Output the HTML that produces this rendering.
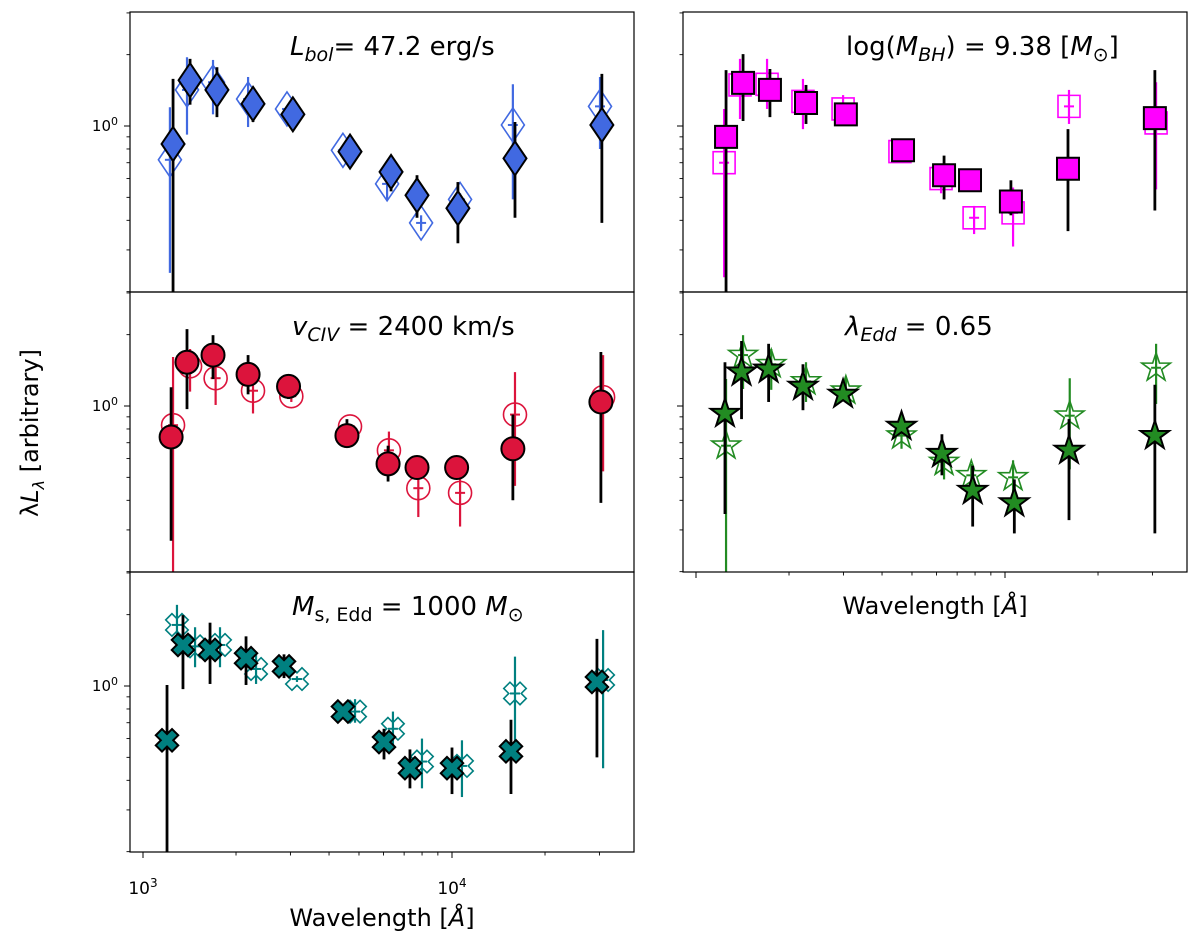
<!DOCTYPE html>
<html><head><meta charset="utf-8">
<style>
html,body{margin:0;padding:0;background:#fff;}
svg{display:block;font-family:"DejaVu Sans","Liberation Sans",sans-serif;}
</style></head>
<body>
<svg id="fig" width="1200" height="951" viewBox="0 0 1200 951" xmlns="http://www.w3.org/2000/svg">
<rect x="0" y="0" width="1200" height="951" fill="#fff"/>
<text transform="translate(38,433) rotate(-90)" text-anchor="middle" font-size="24">λ<tspan font-style="italic">L</tspan><tspan font-size="16" dy="6" font-style="italic">λ</tspan><tspan dy="-6"> [arbitrary]</tspan></text>
<text x="382" y="926" text-anchor="middle" font-size="24">Wavelength [<tspan font-style="italic">Å</tspan>]</text>
<text x="935" y="614" text-anchor="middle" font-size="24">Wavelength [<tspan font-style="italic">Å</tspan>]</text>
<g id="panels"></g>
</svg>
<script>
// ---- Panel 1: L_bol (diamonds) ----
const lbolFilledWave=[1251,1420,1735,2270,3055,4677,6350,7705,10450,15990,30550];
const lbolFilledVal=[0.84,1.56,1.42,1.24,1.12,0.78,0.64,0.51,0.45,0.73,1.01];
const lbolFilledLo=[0.15,1.23,1.09,1.04,0.99,0.74,0.53,0.41,0.32,0.41,0.39];
const lbolFilledHi=[1.58,1.92,1.77,1.39,1.20,0.81,0.75,0.62,0.58,1.04,1.66];
const lbolOpenWave=[1222,1388,1685,2188,2924,4436,6165,7943,10620,15740,30130];
const lbolOpenVal=[0.72,1.42,1.53,1.30,1.18,0.79,0.57,0.39,0.49,1.01,1.21];
const lbolOpenLo=[0.24,0.92,1.12,0.99,1.15,0.76,0.49,0.36,0.45,0.49,0.80];
const lbolOpenHi=[1.20,1.95,1.90,1.61,1.21,0.82,0.67,0.42,0.52,1.50,1.61];
// ---- Panel 2: M_BH (squares) ----
const mbhFilledWave=[1251,1420,1735,2270,3055,4677,6350,7705,10450,15990,30550];
const mbhFilledVal=[0.90,1.52,1.42,1.25,1.12,0.79,0.62,0.59,0.48,0.66,1.08];
const mbhFilledLo=[0.15,1.05,1.09,1.02,1.12,0.79,0.49,0.59,0.42,0.36,0.44];
const mbhFilledHi=[1.72,2.01,1.74,1.49,1.12,0.79,0.75,0.59,0.59,0.97,1.72];
const mbhOpenWave=[1233,1388,1698,2219,2992,4571,6210,7943,10620,16110,30830];
const mbhOpenVal=[0.70,1.49,1.50,1.27,1.18,0.78,0.60,0.41,0.43,1.21,1.03];
const mbhOpenLo=[0.23,1.07,1.18,0.97,1.15,0.76,0.52,0.35,0.31,1.02,0.54];
const mbhOpenHi=[1.18,1.92,1.92,1.58,1.35,0.80,0.69,0.46,0.55,1.42,1.53];
// ---- Panel 3: v_CIV (circles) ----
const civFilledWave=[1233,1388,1685,2188,2958,4571,6210,7705,10350,15740,30330];
const civFilledVal=[0.74,1.53,1.64,1.36,1.21,0.75,0.57,0.55,0.55,0.66,1.04];
const civFilledLo=[0.27,0.97,1.30,1.12,1.07,0.67,0.48,0.55,0.55,0.40,0.39];
const civFilledHi=[1.20,2.11,1.99,1.64,1.35,0.88,0.68,0.55,0.55,0.92,1.69];
const civOpenWave=[1251,1420,1718,2270,3020,4677,6250,7780,10620,15990,30830];
const civOpenVal=[0.83,1.47,1.31,1.16,1.10,0.82,0.65,0.45,0.43,0.92,1.09];
const civOpenLo=[0.15,1.15,1.01,0.93,1.04,0.80,0.60,0.34,0.31,0.46,0.53];
const civOpenHi=[1.61,1.74,1.50,1.30,1.15,0.84,0.78,0.53,0.50,1.39,1.64];
// ---- Panel 4: lambda_Edd (stars) ----
const eddFilledWave=[1241,1404,1718,2219,2992,4625,6250,7860,10720,16110,30550];
const eddFilledVal=[0.93,1.39,1.43,1.21,1.12,0.82,0.63,0.44,0.39,0.65,0.75];
const eddFilledLo=[0.35,0.88,1.04,0.96,1.08,0.79,0.51,0.31,0.29,0.33,0.29];
const eddFilledHi=[1.53,1.88,1.83,1.50,1.17,0.85,0.76,0.56,0.49,0.88,1.23];
const eddOpenWave=[1251,1420,1752,2270,3055,4625,6350,7780,10620,16200,30830];
const eddOpenVal=[0.68,1.64,1.50,1.27,1.16,0.75,0.58,0.51,0.50,0.91,1.45];
const eddOpenLo=[0.15,1.18,1.17,1.04,1.04,0.66,0.49,0.45,0.43,0.54,1.02];
const eddOpenHi=[1.30,1.99,1.74,1.53,1.33,0.83,0.66,0.57,0.59,1.31,1.83];
// ---- Panel 5: M_s,Edd (crosses) ----
const msFilledWave=[1196,1347,1648,2155,2860,4436,6025,7310,10000,15520,29450];
const msFilledVal=[0.59,1.49,1.42,1.31,1.21,0.78,0.58,0.45,0.45,0.53,1.04];
const msFilledLo=[0.15,0.97,1.02,1.01,1.08,0.76,0.49,0.37,0.35,0.35,0.50];
const msFilledHi=[1.01,1.99,1.85,1.62,1.36,0.80,0.66,0.54,0.55,0.72,1.58];
const msOpenWave=[1288,1474,1775,2322,3150,4855,6440,7995,10770,15990,30830];
const msOpenVal=[1.81,1.47,1.49,1.18,1.07,0.78,0.66,0.48,0.46,0.93,1.06];
const msOpenLo=[1.58,1.20,1.20,1.02,1.04,0.70,0.56,0.37,0.34,0.55,0.45];
const msOpenHi=[2.20,1.77,1.77,1.35,1.10,0.88,0.78,0.60,0.59,1.33,1.72];

const xMajor=[1000,10000];
const xMinor=[900,2000,3000,4000,5000,6000,7000,8000,9000,20000,30000];
const yMajor=[1];
const yMinor=[0.2,0.3,0.4,0.5,0.6,0.7,0.8,0.9,2,3];

const NS="http://www.w3.org/2000/svg";
const root=document.getElementById('panels');
const PW=504,PH=280;
function mk(tag,attrs,parent){const e=document.createElementNS(NS,tag);for(const k in attrs)e.setAttribute(k,attrs[k]);(parent||root).appendChild(e);return e;}

function makeAxes(left,top){
  return {
    x:v=>left+13+309*(Math.log10(v)-3),
    y:v=>top+114-237*Math.log10(v),
    left,top
  };
}
function markerPath(shape,cx,cy){
  if(shape==='diamond'){return `M${cx},${cy-17}L${cx+11.5},${cy}L${cx},${cy+17}L${cx-11.5},${cy}Z`;}
  if(shape==='square'){const h=11;return `M${cx-h},${cy-h}H${cx+h}V${cy+h}H${cx-h}Z`;}
  if(shape==='star'){let d='';for(let i=0;i<10;i++){const r=i%2?5.8:15;const a=-Math.PI/2+i*Math.PI/5;d+=(i?'L':'M')+(cx+r*Math.cos(a)).toFixed(2)+','+(cy+r*Math.sin(a)).toFixed(2);}return d+'Z';}
  if(shape==='cross'){const L=11.5,T=4.4;const pts=[[-T,-L],[T,-L],[T,-T],[L,-T],[L,T],[T,T],[T,L],[-T,L],[-T,T],[-L,T],[-L,-T],[-T,-T]];const c=Math.SQRT1_2;let d='';pts.forEach((p,i)=>{const x=(p[0]-p[1])*c,y=(p[0]+p[1])*c;d+=(i?'L':'M')+(cx+x).toFixed(2)+','+(cy+y).toFixed(2);});return d+'Z';}
  return '';
}
let clipId=0;
function panel(cfg){
  const ax=makeAxes(cfg.left,cfg.top);
  const g=mk('g',{});
  
  
  const cid='clip'+(clipId++);
  const cp=mk('clipPath',{id:cid},g);
  mk('rect',{x:cfg.left,y:cfg.top,width:PW,height:PH},cp);
  const plot=mk('g',{'clip-path':`url(#${cid})`},g);
  cfg.ow.forEach((w,i)=>{
    const x=ax.x(w);
    const eb=mk('line',{x1:x,x2:x,y1:ax.y(cfg.ohi[i]),y2:ax.y(cfg.olo[i]),stroke:cfg.color,'stroke-width':2.2},plot);
    
    
    mk('line',{x1:x-5,x2:x+5,y1:ax.y(cfg.ov[i]),y2:ax.y(cfg.ov[i]),stroke:cfg.color,'stroke-width':2},plot);
    const m=mk(cfg.shape==='circle'?'circle':'path',{},plot);
    if(cfg.shape==='circle'){m.setAttribute('cx',x);m.setAttribute('cy',ax.y(cfg.ov[i]));m.setAttribute('r',11.5);}
    else m.setAttribute('d',markerPath(cfg.shape,x,ax.y(cfg.ov[i])));
    m.setAttribute('fill','none');m.setAttribute('stroke',cfg.color);m.setAttribute('stroke-width',1.6);
    
    
  });
  cfg.fw.forEach((w,i)=>{
    const x=ax.x(w);
    const eb=mk('line',{x1:x,x2:x,y1:ax.y(cfg.fhi[i]),y2:ax.y(cfg.flo[i]),stroke:'#000','stroke-width':2.8},plot);
    
    
    const m=mk(cfg.shape==='circle'?'circle':'path',{},plot);
    if(cfg.shape==='circle'){m.setAttribute('cx',x);m.setAttribute('cy',ax.y(cfg.fv[i]));m.setAttribute('r',11.5);}
    else m.setAttribute('d',markerPath(cfg.shape,x,ax.y(cfg.fv[i])));
    m.setAttribute('fill',cfg.color);m.setAttribute('stroke','#000');m.setAttribute('stroke-width',2);m.setAttribute('stroke-linejoin','miter');
    
    
  });
  const fr=mk('rect',{x:cfg.left,y:cfg.top,width:PW,height:PH,fill:'none',stroke:'#000','stroke-width':1.2},g);
  
  
  yMajor.forEach(v=>{const y=ax.y(v);mk('line',{x1:cfg.left-6,x2:cfg.left,y1:y,y2:y,stroke:'#000','stroke-width':1},g);
    if(cfg.ylabels){const t=mk('text',{x:cfg.left-12,y:y+5,'text-anchor':'end','font-size':15},g);t.innerHTML='10<tspan dy="-6" font-size="11">0</tspan>';
      
      }});
  yMinor.forEach(v=>{const y=ax.y(v);if(y>cfg.top&&y<cfg.top+PH)mk('line',{x1:cfg.left-3.5,x2:cfg.left,y1:y,y2:y,stroke:'#000','stroke-width':0.9},g);});
  if(cfg.xticks){
    const yb=cfg.top+PH;
    xMajor.forEach((v,i)=>{const x=ax.x(v);mk('line',{x1:x,x2:x,y1:yb,y2:yb+6,stroke:'#000','stroke-width':1},g);
      if(cfg.xlabels){const t=mk('text',{x:x,y:yb+42,'text-anchor':'middle','font-size':17},g);t.innerHTML='10<tspan dy="-7" font-size="12">'+(i?4:3)+'</tspan>';
        
        }});
    xMinor.forEach(v=>{const x=ax.x(v);if(x>=cfg.left&&x<=cfg.left+PW)mk('line',{x1:x,x2:x,y1:yb,y2:yb+3.5,stroke:'#000','stroke-width':0.9},g);});
  }
  const tt=mk('text',{x:cfg.tx,y:cfg.top+43,'font-size':26},g);
  tt.innerHTML=cfg.title;
  
  
}
panel({name:'panel-lbol',left:130,top:12,color:'#4169e1',shape:'diamond',ylabels:true,xticks:false,tx:290,
  title:'<tspan font-style="italic">L</tspan><tspan font-style="italic" font-size="19" dy="6">bol</tspan><tspan dy="-6">= 47.2 erg/s</tspan>',
  fw:lbolFilledWave,fv:lbolFilledVal,flo:lbolFilledLo,fhi:lbolFilledHi,ow:lbolOpenWave,ov:lbolOpenVal,olo:lbolOpenLo,ohi:lbolOpenHi});
panel({name:'panel-mbh',left:683,top:12,color:'#ff00ff',shape:'square',ylabels:false,xticks:false,tx:846,
  title:'log(<tspan font-style="italic">M</tspan><tspan font-style="italic" font-size="19" dy="6">BH</tspan><tspan dy="-6">) = 9.38 [</tspan><tspan font-style="italic">M</tspan><tspan font-size="19" dy="6">⊙</tspan><tspan dy="-6">]</tspan>',
  fw:mbhFilledWave,fv:mbhFilledVal,flo:mbhFilledLo,fhi:mbhFilledHi,ow:mbhOpenWave,ov:mbhOpenVal,olo:mbhOpenLo,ohi:mbhOpenHi});
panel({name:'panel-vciv',left:130,top:292,color:'#dc143c',shape:'circle',ylabels:true,xticks:false,tx:292,
  title:'<tspan font-style="italic">v</tspan><tspan font-style="italic" font-size="19" dy="6">CIV</tspan><tspan dy="-6"> = 2400 km/s</tspan>',
  fw:civFilledWave,fv:civFilledVal,flo:civFilledLo,fhi:civFilledHi,ow:civOpenWave,ov:civOpenVal,olo:civOpenLo,ohi:civOpenHi});
panel({name:'panel-ledd',left:683,top:292,color:'#228b22',shape:'star',ylabels:false,xticks:true,xlabels:false,tx:845,
  title:'<tspan font-style="italic">λ</tspan><tspan font-style="italic" font-size="19" dy="6">Edd</tspan><tspan dy="-6"> = 0.65</tspan>',
  fw:eddFilledWave,fv:eddFilledVal,flo:eddFilledLo,fhi:eddFilledHi,ow:eddOpenWave,ov:eddOpenVal,olo:eddOpenLo,ohi:eddOpenHi});
panel({name:'panel-msedd',left:130,top:572,color:'#008080',shape:'cross',ylabels:true,xticks:true,xlabels:true,tx:292,
  title:'<tspan font-style="italic">M</tspan><tspan font-size="19" dy="6">s, Edd</tspan><tspan dy="-6"> = 1000 </tspan><tspan font-style="italic">M</tspan><tspan font-size="19" dy="6">⊙</tspan>',
  fw:msFilledWave,fv:msFilledVal,flo:msFilledLo,fhi:msFilledHi,ow:msOpenWave,ov:msOpenVal,olo:msOpenLo,ohi:msOpenHi});
</script>
</body></html>
